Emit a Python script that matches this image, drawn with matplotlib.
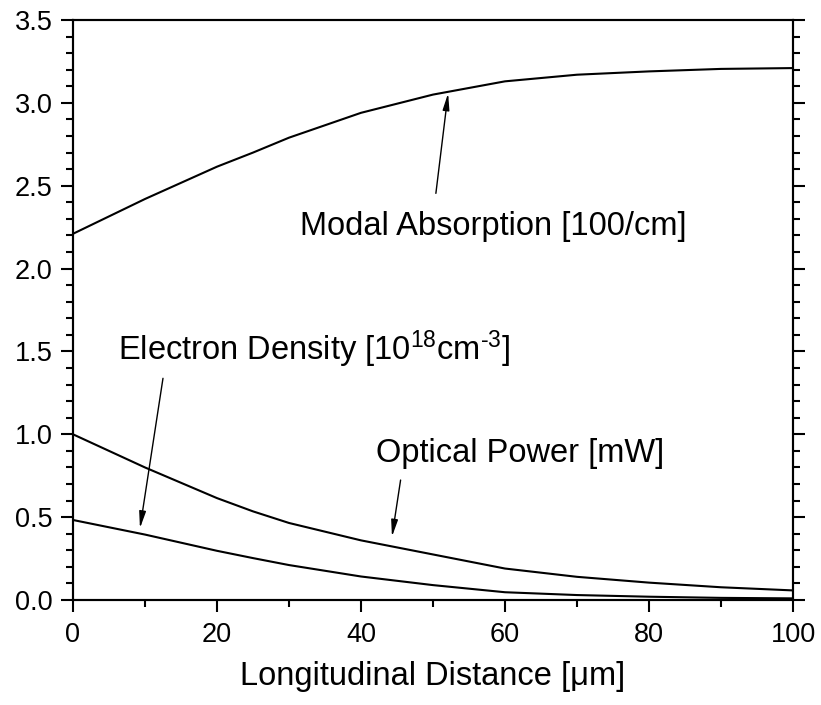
import matplotlib
matplotlib.use("Agg")
import matplotlib.pyplot as plt
from matplotlib.ticker import MultipleLocator, FormatStrFormatter, NullLocator

plt.rcParams['font.family'] = ['Liberation Sans', 'DejaVu Sans']
plt.rcParams['mathtext.fontset'] = 'custom'
plt.rcParams['mathtext.rm'] = 'Liberation Sans'
plt.rcParams['mathtext.it'] = 'Liberation Sans'

# =========================================================
# DADOS
# =========================================================
distancia = [0, 10, 20, 25, 30, 40, 50, 60, 70, 80, 90, 100]
absorcao_modal = [2.21, 2.42, 2.615, 2.70, 2.79, 2.94, 3.05, 3.13, 3.17, 3.19, 3.205, 3.21]
potencia_optica = [1.0, 0.80, 0.615, 0.535, 0.465, 0.36, 0.275, 0.19, 0.14, 0.105, 0.077, 0.058]
densidade_eletrons = [0.483, 0.395, 0.297, 0.253, 0.211, 0.142, 0.09, 0.047, 0.03, 0.02, 0.013, 0.01]

# anotações: (texto, posição do texto, ponta da seta, cauda da seta)
rotulos = [
    ("Modal Absorption [100/cm]", (31.5, 2.203), (52.1, 3.058), (50.4, 2.454)),
    ("Electron Density [10$^{18}$cm$^{\u20103}$]", (6.25, 1.448), (9.3, 0.433), (12.5, 1.338)),
    ("Optical Power [mW]", (42.1, 0.835), (44.3, 0.382), (45.5, 0.724)),
]

# =========================================================
# GRÁFICO
# =========================================================
fig = plt.figure(figsize=(8.21, 7.05), dpi=100)
ax = fig.add_axes([0.0889, 0.1489, 0.877, 0.8227])

for serie in (absorcao_modal, potencia_optica, densidade_eletrons):
    ax.plot(distancia, serie, color='black', linewidth=1.5)

for texto, pos, ponta, cauda in rotulos:
    ax.text(pos[0], pos[1], texto, fontsize=23.5, ha='left', va='baseline')
    ax.annotate(
        "", xy=ponta, xytext=cauda,
        arrowprops=dict(arrowstyle='-|>,head_length=1.0,head_width=0.2',
                        color='black', lw=1.0, shrinkA=0, shrinkB=0)
    )

ax.set_xlim(0, 100)
ax.set_ylim(0, 3.5)
ax.xaxis.set_major_locator(MultipleLocator(20))
ax.xaxis.set_minor_locator(MultipleLocator(10))
ax.yaxis.set_major_locator(MultipleLocator(0.5))
ax.yaxis.set_minor_locator(MultipleLocator(0.1))
ax.yaxis.set_major_formatter(FormatStrFormatter('%.1f'))

ax.set_xlabel("Longitudinal Distance [μm]", fontsize=23.5, labelpad=10)

for lado in ax.spines.values():
    lado.set_linewidth(1.5)

ax.tick_params(axis='both', which='major', labelsize=19.5, length=8.5, width=1.5,
               direction='out', top=False)
ax.tick_params(axis='both', which='minor', length=5, width=1.5, direction='out', top=False)
ax.tick_params(axis='x', which='major', pad=7)
ax.tick_params(axis='y', which='major', pad=6)
ax.tick_params(axis='y', which='both', right=True)

# marcas minúsculas no topo
topo = ax.twiny()
topo.set_xlim(ax.get_xlim())
topo.xaxis.set_major_locator(MultipleLocator(10))
topo.xaxis.set_minor_locator(NullLocator())
topo.tick_params(axis='x', which='major', length=2, width=1.5, direction='inout',
                 labeltop=False, top=True, bottom=False)
for lado in topo.spines.values():
    lado.set_linewidth(1.5)

fig.savefig("out.png", dpi=100)
plt.close(fig)
